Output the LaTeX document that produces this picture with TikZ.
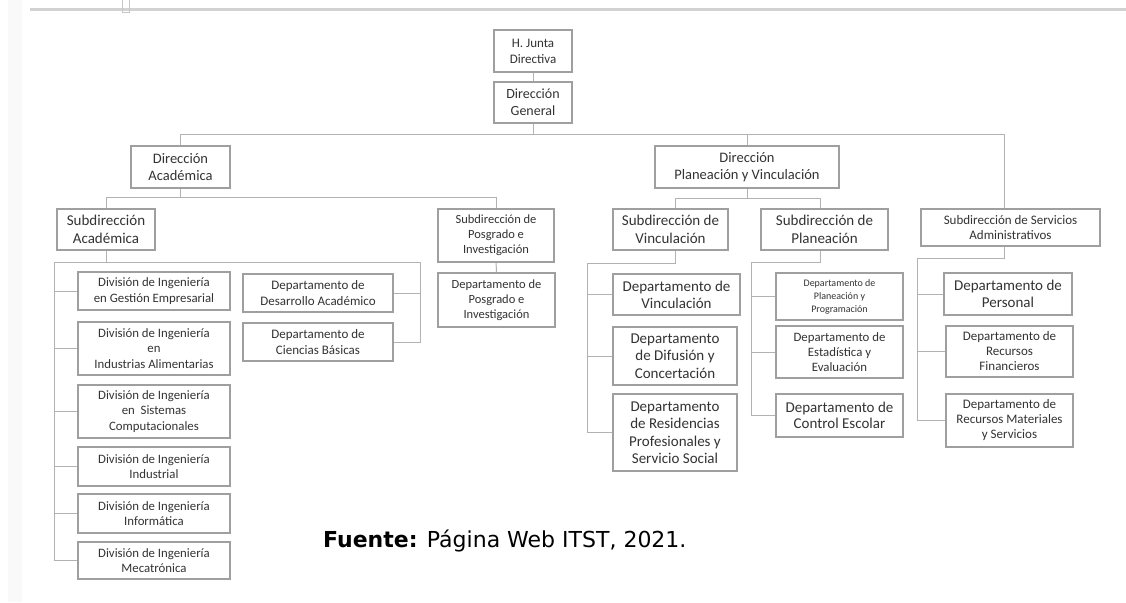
\documentclass[tikz,border=0pt]{standalone}
\usepackage{fontspec}
\setmainfont{Carlito}
\newfontfamily\capfont{DejaVu Sans}
\usetikzlibrary{positioning,calc}

\tikzset{
  box/.style={draw=gray!75, line width=1.2pt, fill=white, align=center, inner sep=0pt, text=black!80},
  wh/.style 2 args={minimum width=#1pt, minimum height=#2pt},
  fsz/.style 2 args={font=\fontsize{#1}{#2}\selectfont},
  link/.style={draw=gray!60, line width=1pt}
}

\begin{document}
\begin{tikzpicture}[x=1pt,y=-1pt]
\useasboundingbox (0,0) rectangle (1126,602);
%page edge
\fill[gray!5] (8,0) rectangle (22,602);
\draw[gray!35, line width=3pt] (30,10) -- (1126,10);
\draw[gray!45, line width=0.8pt] (122,0) -- (122,12) -- (129,12) -- (129,0);

%top
\node[box,wh={78}{42},fsz={13}{16}] (hjd) at (533,51) {H. Junta\\Directiva};
\node[box,wh={78}{41},fsz={14}{17}] (dg) at (533,102.5) {Dirección\\General};
\node[box,wh={99}{42},fsz={14.5}{17.5}] (dac) at (180.5,167) {Dirección\\Académica};
\node[box,wh={184}{42},fsz={14.5}{17.5}] (dpv) at (747,167) {Dirección\\Planeación y Vinculación};

%subdirecciones
\node[box,wh={98}{41},fsz={15}{18}] (sac) at (106,229.5) {Subdirección\\Académica};
\node[box,wh={116}{53},fsz={12.5}{15}] (spi) at (496,235.5) {Subdirección de\\Posgrado e\\Investigación};
\node[box,wh={115}{41},fsz={15}{18}] (sv) at (670.5,229.5) {Subdirección de\\Vinculación};
\node[box,wh={127}{41},fsz={15}{18}] (sp) at (824.5,229.5) {Subdirección de\\Planeación};
\node[box,wh={179}{37},fsz={13}{15.5}] (ssa) at (1010.5,227.5) {Subdirección de Servicios\\Administrativos};

%divisiones
\node[box,wh={152}{38},fsz={12.8}{15.5}] (dge) at (154,291) {División de Ingeniería\\en Gestión Empresarial};
\node[box,wh={152}{53},fsz={12.8}{15.5}] (dia) at (154,348.5) {División de Ingeniería\\en\\Industrias Alimentarias};
\node[box,wh={152}{53},fsz={12.8}{15.5}] (dsc) at (154,411.5) {División de Ingeniería\\en\ \ Sistemas\\Computacionales};
\node[box,wh={152}{39},fsz={12.8}{15.5}] (dii) at (154,466.5) {División de Ingeniería\\Industrial};
\node[box,wh={152}{39},fsz={12.8}{15.5}] (dinf) at (154,513.5) {División de Ingeniería\\Informática};
\node[box,wh={152}{37},fsz={12.8}{15.5}] (dmec) at (154,560.5) {División de Ingeniería\\Mecatrónica};
\node[box,wh={150}{38},fsz={13}{15.5}] (dda) at (318,293) {Departamento de\\Desarrollo Académico};
\node[box,wh={150}{38},fsz={13}{15.5}] (dcb) at (318,342) {Departamento de\\Ciencias Básicas};
\node[box,wh={117}{54},fsz={12.5}{15}] (dpi) at (496.5,300) {Departamento de\\Posgrado e\\Investigación};

%departamentos
\node[box,wh={127}{41},fsz={15}{17}] (dvi) at (676.5,294.5) {Departamento de\\Vinculación};
\node[box,wh={124}{58},fsz={15}{17.5}] (ddc) at (675,356) {Departamento\\de Difusión y\\Concertación};
\node[box,wh={124}{77},fsz={15}{17.5}] (drp) at (675,432.5) {Departamento\\de Residencias\\Profesionales y\\Servicio Social};
\node[box,wh={127}{47},fsz={10}{13}] (dpp) at (839.5,296.5) {Departamento de\\Planeación y\\Programación};
\node[box,wh={127}{52},fsz={12.8}{15}] (dee) at (839.5,352) {Departamento de\\Estadística y\\Evaluación};
\node[box,wh={127}{43},fsz={15}{15.5}] (dce) at (839.5,415.5) {Departamento de\\Control Escolar};
\node[box,wh={128}{42},fsz={15}{17}] (dpe) at (1008,294) {Departamento de\\Personal};
\node[box,wh={127}{51},fsz={13}{15}] (drf) at (1009.5,351.5) {Departamento de\\Recursos\\Financieros};
\node[box,wh={127}{53},fsz={13}{15}] (drm) at (1009.5,420.5) {Departamento de\\Recursos Materiales\\y Servicios};

\node[anchor=base west, inner sep=0pt, font=\capfont\fontsize{22}{26}\selectfont] (src) at (323,547) {\textbf{Fuente:} Página Web ITST, 2021.};

%lineas
\draw[link] (hjd) -- (dg);
\draw[link] (dg.south) -- ++(0,11) coordinate (top);
\draw[link] (dac.north) |- (top) -| ([xshift=-6pt]ssa.north);
\draw[link] (dpv.north) -- (dpv.north |- top);
\draw[link] (dac.south) -- ++(0,9) coordinate (acd);
\draw[link] (sac.north) |- (acd) -| (spi.north);
\draw[link] (spi) -- (dpi);
\draw[link] (dpv.south) -- ++(0,10) coordinate (pv);
\draw[link] ([xshift=5pt]sv.north) |- (pv) -| ([xshift=-4pt]sp.north);

\coordinate (sal) at (54,262); \coordinate (sar) at (420,262);
\draw[link] (sac.south) -- (sac.south |- sal);
\draw[link] (dmec.west) -| (sal) -- (sar) |- (dcb.east);
\foreach \n in {dge,dia,dsc,dii,dinf} \draw[link] (\n.west) -- (\n.west -| sal);
\draw[link] (dda.east) -- (dda.east -| sar);

\coordinate (svl) at (587,263);
\draw[link] ([xshift=5pt]sv.south) |- (svl) |- (drp.west);
\foreach \n in {dvi,ddc} \draw[link] (\n.west) -- (\n.west -| svl);
\coordinate (spl) at (751,262);
\draw[link] ([xshift=-4pt]sp.south) |- (spl) |- (dce.west);
\foreach \n in {dpp,dee} \draw[link] (\n.west) -- (\n.west -| spl);
\coordinate (ssl) at (917,258);
\draw[link] ([xshift=-6pt]ssa.south) |- (ssl) |- (drm.west);
\foreach \n in {dpe,drf} \draw[link] (\n.west) -- (\n.west -| ssl);
\end{tikzpicture}
\end{document}
